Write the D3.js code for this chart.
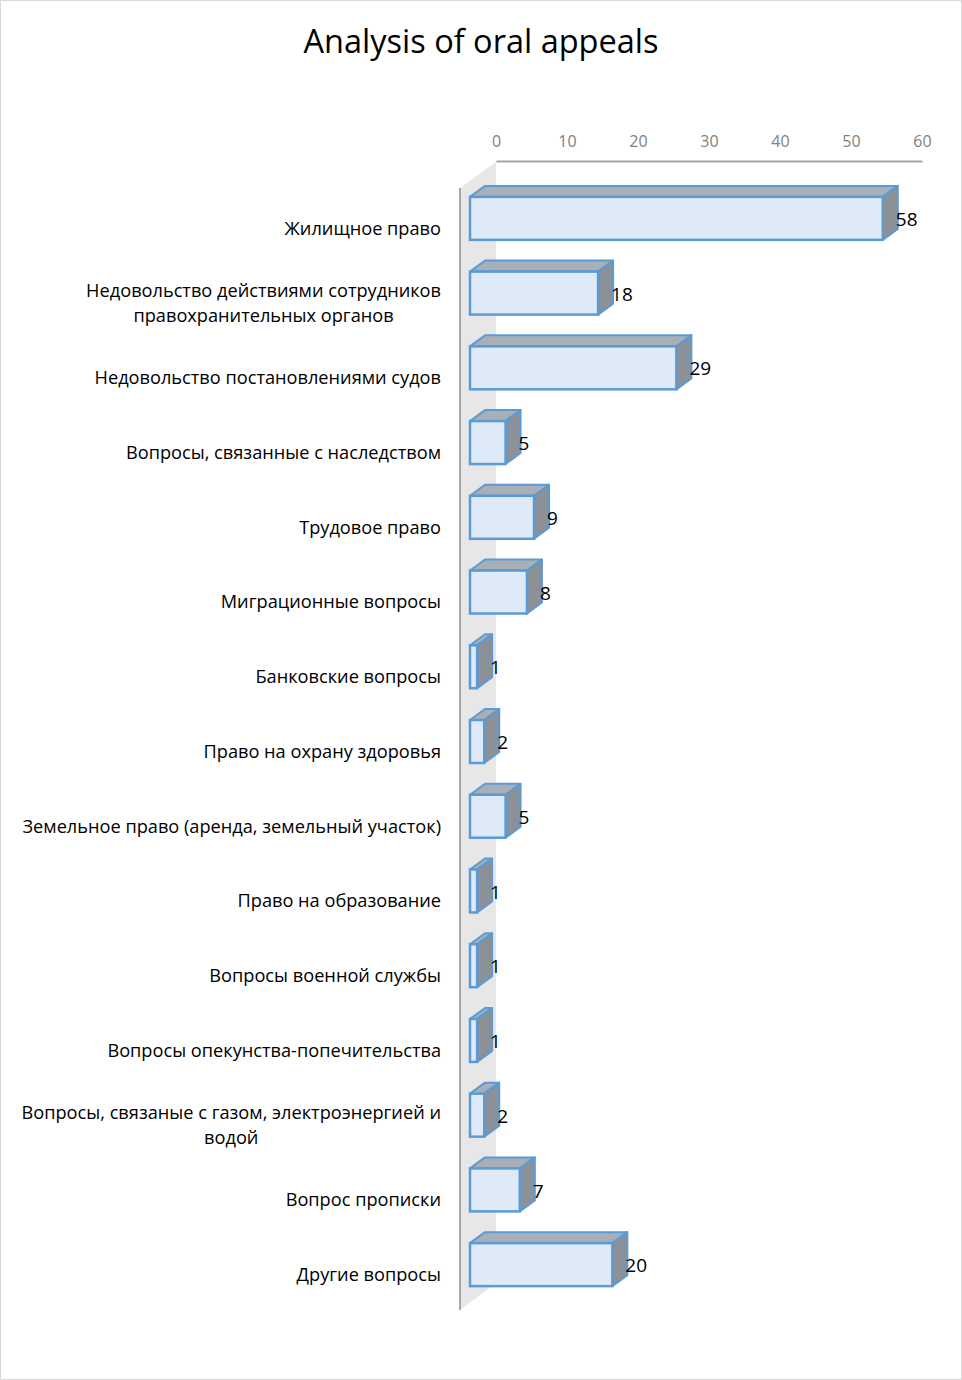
<!DOCTYPE html>
<html>
<head>
<meta charset="utf-8">
<script src="https://cdn.jsdelivr.net/npm/d3@7"></script>
<style>
  body { margin: 0; background: #fff; }
  text { font-family: "Open Sans", sans-serif; }
</style>
</head>
<body>
<div id="container"></div>
<script>
// data
const categories = [
    ["Жилищное право"],
    ["Недовольство действиями сотрудников", "правохранительных органов"],
    ["Недовольство постановлениями судов"],
    ["Вопросы, связанные с наследством"],
    ["Трудовое право"],
    ["Миграционные вопросы"],
    ["Банковские вопросы"],
    ["Право на охрану здоровья"],
    ["Земельное право (аренда, земельный участок)"],
    ["Право на образование"],
    ["Вопросы военной службы"],
    ["Вопросы опекунства-попечительства"],
    ["Вопросы, связаные с газом, электроэнергией и", "водой"],
    ["Вопрос прописки"],
    ["Другие вопросы"]
];
const values = [58, 18, 29, 5, 9, 8, 1, 2, 5, 1, 1, 1, 2, 7, 20];
const ticks = [0, 10, 20, 30, 40, 50, 60];

const width = 962, height = 1380;
const container = d3.select("#container");
const svg = container.append("svg")
    .attr("width", width)
    .attr("height", height);

svg.append("rect")
    .attr("x", 0.5).attr("y", 0.5)
    .attr("width", width - 1).attr("height", height - 1)
    .attr("fill", "#fff")
    .attr("stroke", "#d9d9d9");

svg.append("text")
    .attr("x", 481).attr("y", 53)
    .attr("text-anchor", "middle")
    .attr("font-size", 32.5)
    .attr("fill", "#000")
    .text("Analysis of oral appeals");

// scales: front plane and back wall
const xFront = d3.scaleLinear().domain([0, 60]).range([470, 897]);
const xBack = d3.scaleLinear().domain([0, 60]).range([496, 922]);
const dx = 15, dy = -11;

const y = d3.scaleBand()
    .domain(d3.range(categories.length))
    .range([181, 1302])
    .paddingInner(0.425)
    .paddingOuter(0.2125);

// side wall
svg.append("polygon")
    .attr("points", [[460, 188], [496, 162], [496, 1283], [460, 1310]].join(" "))
    .attr("fill", "#e7e7e7");
svg.append("line")
    .attr("x1", 460).attr("x2", 460)
    .attr("y1", 188).attr("y2", 1310)
    .attr("stroke", "#a6a6a6").attr("stroke-width", 2);

// top axis
const axis = svg.append("g")
    .attr("transform", "translate(0,161)")
    .call(d3.axisTop(xBack).tickValues(ticks).tickSize(0).tickPadding(14));
axis.select(".domain").attr("stroke", "#a6a6a6").attr("stroke-width", 2);
axis.selectAll("text")
    .attr("font-family", "Open Sans, sans-serif")
    .attr("font-size", 16)
    .attr("fill", "#7f7f7f");

// bars
const bar = svg.selectAll(".bar")
    .data(values)
    .join("g")
    .classed("bar", true);

const x0 = xFront(0);
bar.append("polygon")
    .attr("points", (d, i) => {
        const yt = y(i), xr = xFront(d);
        return [[x0, yt], [x0 + dx, yt + dy], [xr + dx, yt + dy], [xr, yt]].join(" ");
    })
    .attr("fill", "#a8afb6")
    .attr("stroke", "#5b9bd5").attr("stroke-width", 2).attr("stroke-linejoin", "round");

bar.append("polygon")
    .attr("points", (d, i) => {
        const yt = y(i), yb = yt + y.bandwidth(), xr = xFront(d);
        return [[xr, yt], [xr + dx, yt + dy], [xr + dx, yb + dy], [xr, yb]].join(" ");
    })
    .attr("fill", "#8c9197")
    .attr("stroke", "#5b9bd5").attr("stroke-width", 2).attr("stroke-linejoin", "round");

bar.append("rect")
    .attr("x", x0)
    .attr("y", (d, i) => y(i))
    .attr("width", d => xFront(d) - x0)
    .attr("height", y.bandwidth())
    .attr("fill", "#deeaf7")
    .attr("stroke", "#5b9bd5").attr("stroke-width", 2.5);

bar.append("text")
    .attr("x", d => xFront(d) + 13)
    .attr("y", (d, i) => y(i) + y.bandwidth() / 2 + 1)
    .attr("dy", "0.35em")
    .attr("font-size", 19)
    .attr("fill", "#000")
    .text(d => d);

// category labels
const labelRight = 441;
const lab = svg.selectAll(".cat")
    .data(categories)
    .join("g")
    .classed("cat", true);

lab.each(function (lines, i) {
    const g = d3.select(this);
    const cy = y(i) + y.bandwidth() / 2 + 10;
    const lh = 25;
    const t = g.append("text")
        .attr("font-size", 18.2)
        .attr("fill", "#000");
    lines.forEach((s, k) => {
        t.append("tspan")
            .attr("y", cy + (k - (lines.length - 1) / 2) * lh)
            .attr("dy", "0.35em")
            .text(s);
    });
    // right align block, center lines inside it
    const widths = t.selectAll("tspan").nodes().map(n => n.getComputedTextLength());
    const maxW = d3.max(widths);
    t.attr("text-anchor", "middle");
    t.selectAll("tspan").attr("x", labelRight - maxW / 2);
});
</script>
</body>
</html>
